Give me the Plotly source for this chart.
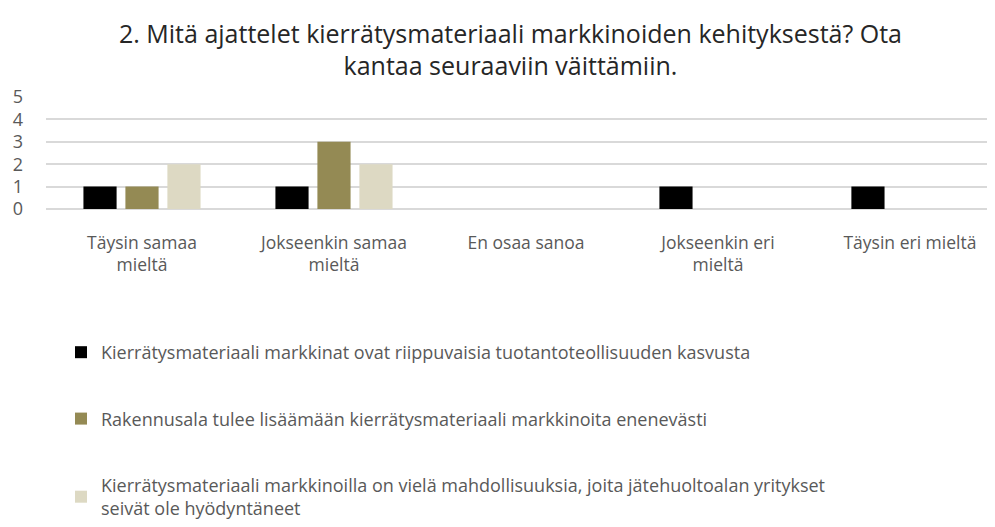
import plotly.graph_objects as go

categories = ["Täysin samaa<br>mieltä", "Jokseenkin samaa<br>mieltä", "En osaa sanoa",
              "Jokseenkin eri<br>mieltä", "Täysin eri mieltä"]
series_names = [
    "Kierrätysmateriaali markkinat ovat riippuvaisia tuotantoteollisuuden kasvusta",
    "Rakennusala tulee lisäämään kierrätysmateriaali markkinoita enenevästi",
    "Kierrätysmateriaali markkinoilla on vielä mahdollisuuksia, joita jätehuoltoalan yritykset<br>seivät ole hyödyntäneet",
]
series1 = [1, 1, 0, 1, 1]
series2 = [1, 3, 0, 0, 0]
series3 = [2, 2, 0, 0, 0]
colors = ["#000000", "#948a54", "#ddd9c3"]
y_ticks = [0, 1, 2, 3, 4, 5]

fig = go.Figure()
for i, (name, vals) in enumerate(zip(series_names, [series1, series2, series3])):
    fig.add_trace(go.Bar(x=categories, y=vals, name=name, marker_color=colors[i],
                         marker_line_width=0, legendgroup=f"g{i}"))

fig.update_layout(
    width=995, height=527,
    paper_bgcolor="white", plot_bgcolor="white",
    margin=dict(l=38, r=8, t=89, b=326, autoexpand=False),
    barmode="group", bargap=0.344, bargroupgap=0.21,
    title=dict(text="2. Mitä ajattelet kierrätysmateriaali markkinoiden kehityksestä? Ota<br>kantaa seuraaviin väittämiin.",
               x=0.505, xanchor="center", y=0.934, yanchor="top",
               font=dict(family="Open Sans", size=25, color="#262626")),
    font=dict(family="Open Sans", color="#595959"),
    xaxis=dict(range=[-0.5, 4.443], showgrid=False, showline=False, ticks="", automargin=False,
               tickfont=dict(size=17.5, color="#595959"), ticklabelstandoff=21),
    yaxis=dict(range=[0, 5], tickvals=y_ticks, showgrid=True, gridcolor="#d9d9d9", gridwidth=1.5,
               zeroline=True, zerolinecolor="#d9d9d9", zerolinewidth=1.5, automargin=False,
               tickfont=dict(size=18, color="#595959"), ticklabelstandoff=22),
    legend=dict(orientation="v", x=0.0158, xanchor="left", y=-1.116, yanchor="top",
                traceorder="grouped", tracegroupgap=40,
                font=dict(family="Open Sans", size=18, color="#595959")),
    showlegend=True,
)
fig.write_html("out.html")
